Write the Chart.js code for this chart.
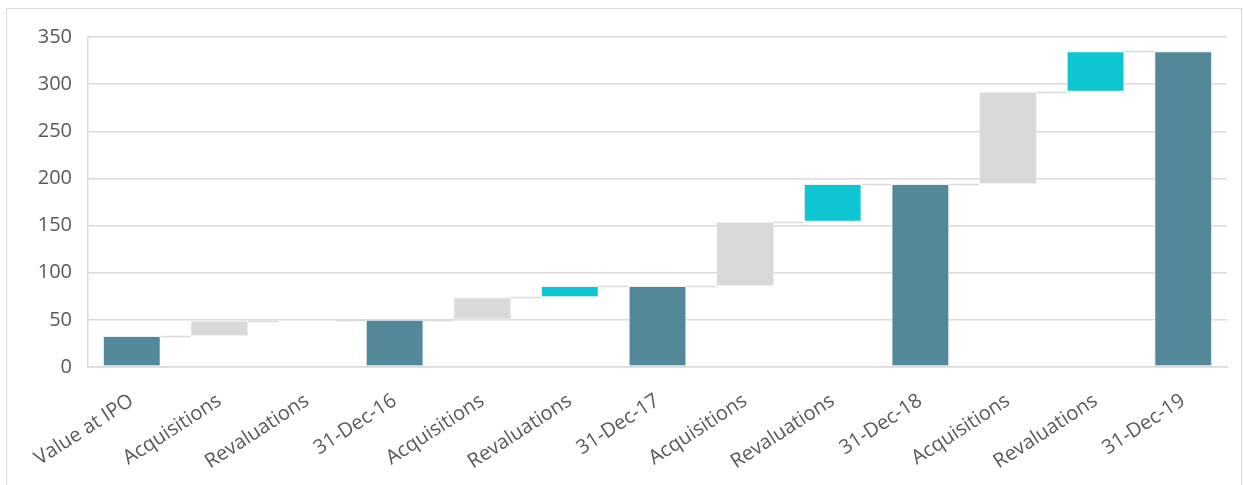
<!DOCTYPE html>
<html>
<head>
<meta charset="utf-8">
<script src="https://cdn.jsdelivr.net/npm/chart.js@4.4.1/dist/chart.umd.min.js"></script>
<style>
  html, body { margin: 0; padding: 0; background: #fff; }
  #wrap { position: relative; width: 1243px; height: 485px; }
  #frame { position: absolute; left: 6px; top: 8px; width: 1236px; height: 480px; border: 1px solid #d9d9d9; box-sizing: border-box; pointer-events: none; }
</style>
</head>
<body>
<div id="wrap">
  <canvas id="waterfall" width="1243" height="485"></canvas>
  <div id="frame"></div>
</div>
<script>
const labels = [
  "Value at IPO", "Acquisitions", "Revaluations", "31-Dec-16",
  "Acquisitions", "Revaluations", "31-Dec-17",
  "Acquisitions", "Revaluations", "31-Dec-18",
  "Acquisitions", "Revaluations", "31-Dec-19",
];
const barLow  = [0, 33, 49, 0, 50, 74, 0, 86, 154, 0, 194, 292, 0];
const barHigh = [33, 49, 50, 50, 74, 86, 86, 154, 194, 194, 292, 335, 335];
const kinds   = ["total", "acq", "rev", "total", "acq", "rev", "total", "acq", "rev", "total", "acq", "rev", "total"];
const yTicks  = [0, 50, 100, 150, 200, 250, 300, 350];

const COLORS = { total: "#538899", acq: "#d9d9d9", rev: "#0ec6d2" };

// thin grey step lines joining each bar top to the next bar
const connectors = {
  id: "connectors",
  afterDatasetsDraw(chart) {
    const meta = chart.getDatasetMeta(0);
    const y = chart.scales.y;
    const ctx = chart.ctx;
    ctx.save();
    ctx.strokeStyle = "#d9d9d9";
    ctx.lineWidth = 1.5;
    for (let i = 0; i < meta.data.length - 1; i++) {
      const a = meta.data[i], b = meta.data[i + 1];
      const py = Math.round(y.getPixelForValue(barHigh[i])) + 0.5;
      ctx.beginPath();
      ctx.moveTo(a.x + a.width / 2, py);
      ctx.lineTo(b.x - b.width / 2, py);
      ctx.stroke();
    }
    ctx.restore();
  },
};

const ctx = document.getElementById("waterfall").getContext("2d");
new Chart(ctx, {
  type: "bar",
  data: {
    labels,
    datasets: [{
      data: barLow.map((lo, i) => [lo, barHigh[i]]),
      backgroundColor: kinds.map(k => COLORS[k]),
      borderColor: "rgba(235,240,242,0.9)",
      borderWidth: 1,
      borderSkipped: false,
      categoryPercentage: 1,
      barPercentage: 0.66,
    }],
  },
  options: {
    responsive: false,
    animation: false,
    layout: { padding: { left: 0, top: 37, right: 16, bottom: 0 } },
    plugins: { legend: { display: false }, tooltip: { enabled: false } },
    scales: {
      x: {
        grid: { display: false },
        border: { display: true, color: "#d9d9d9", width: 1.5 },
        ticks: {
          color: "#595959",
          font: { family: "'Open Sans'", size: 20 },
          minRotation: 33,
          maxRotation: 33,
          padding: 14,
        },
        afterFit(scale) { scale.height = 118; },
      },
      y: {
        min: 0,
        max: 350,
        afterBuildTicks(scale) { scale.ticks = yTicks.map(v => ({ value: v })); },
        grid: { color: "#d9d9d9", lineWidth: 1.5, drawTicks: false },
        border: { display: true, color: "#d9d9d9", width: 1.5 },
        ticks: {
          color: "#595959",
          font: { family: "'Open Sans'", size: 20 },
          padding: 16,
        },
        afterFit(scale) { scale.width = 88; },
      },
    },
  },
  plugins: [connectors],
});
</script>
</body>
</html>
